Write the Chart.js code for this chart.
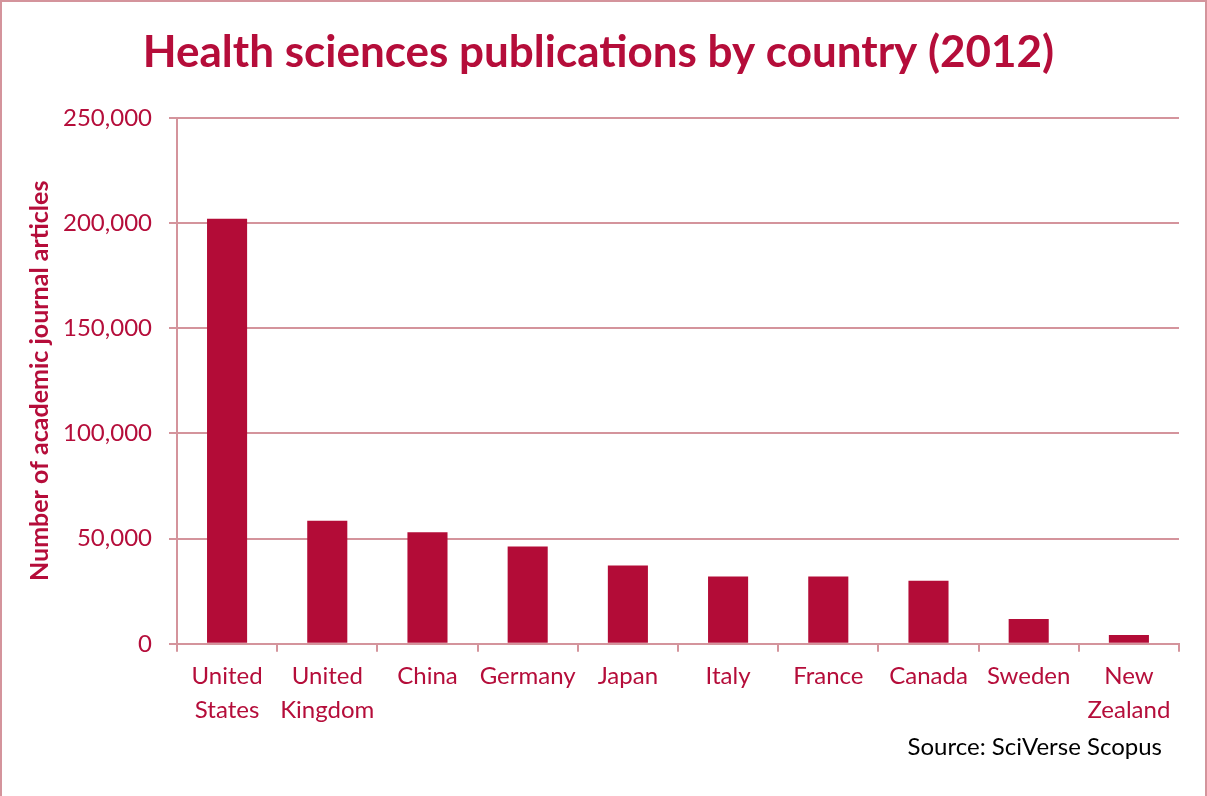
<!DOCTYPE html>
<html lang="en">
<head>
  <meta charset="UTF-8" />
  <title>Health sciences publications by country (2012)</title>
  <style>
    body {
      margin: 0;
      padding: 0;
      background: #fff;
      font-family: Lato, sans-serif;
    }
    .frame {
      position: absolute;
      left: 0;
      top: 0;
      width: 1203px;
      height: 800px;
      border: 2px solid #d4949c;
    }
    .chart-box {
      position: absolute;
      left: 0;
      top: 0;
      width: 1207px;
      height: 796px;
    }
    .source {
      position: absolute;
      right: 45px;
      top: 731px;
      font-size: 24px;
      color: #000;
    }
  </style>
</head>
<body>
  <div class="frame"></div>
  <div class="chart-box"><canvas id="chart"></canvas></div>
  <div class="source">Source: SciVerse Scopus</div>

  <script src="https://cdn.jsdelivr.net/npm/chart.js"></script>
  <script>
    const countries = [
      ['United', 'States'], ['United', 'Kingdom'], 'China', 'Germany', 'Japan',
      'Italy', 'France', 'Canada', 'Sweden', ['New', 'Zealand']
    ];
    const articles = [202000, 58500, 53000, 46200, 37200, 32000, 32000, 30000, 11800, 4200];

    const red = '#b30c37';
    const textRed = '#b50d3a';
    const gridPink = '#d4949c';

    new Chart(document.getElementById('chart'), {
      type: 'bar',
      data: {
        labels: countries,
        datasets: [{
          data: articles,
          backgroundColor: red,
          barPercentage: 0.4,
          categoryPercentage: 1.0
        }]
      },
      options: {
        responsive: true,
        maintainAspectRatio: false,
        animation: false,
        layout: { padding: { left: 18, right: 28, top: 0, bottom: 61 } },
        plugins: {
          legend: { display: false },
          tooltip: { enabled: false },
          title: {
            display: true,
            text: 'Health sciences publications by country (2012)',
            color: textRed,
            font: { family: 'Lato', size: 44, weight: 'bold' },
            padding: { top: 26, bottom: 39 }
          }
        },
        scales: {
          x: {
            grid: {
              offset: true,
              drawOnChartArea: false,
              color: gridPink,
              lineWidth: 2,
              tickLength: 8
            },
            border: { color: gridPink, width: 2 },
            ticks: {
              color: textRed,
              font: { family: 'Lato', size: 24, lineHeight: 1.4 },
              padding: 8,
              maxRotation: 0,
              autoSkip: false
            }
          },
          y: {
            min: 0,
            max: 250000,
            grid: { color: gridPink, lineWidth: 2, tickLength: 8 },
            border: { color: gridPink, width: 2 },
            ticks: {
              stepSize: 50000,
              color: textRed,
              font: { family: 'Lato', size: 24 },
              padding: 17,
              callback: v => v.toLocaleString('en-US')
            },
            title: {
              display: true,
              text: 'Number of academic journal articles',
              color: textRed,
              font: { family: 'Lato', size: 25, weight: 'bold' },
              padding: { top: 7, bottom: -9 }
            }
          }
        }
      }
    });
  </script>
</body>
</html>
